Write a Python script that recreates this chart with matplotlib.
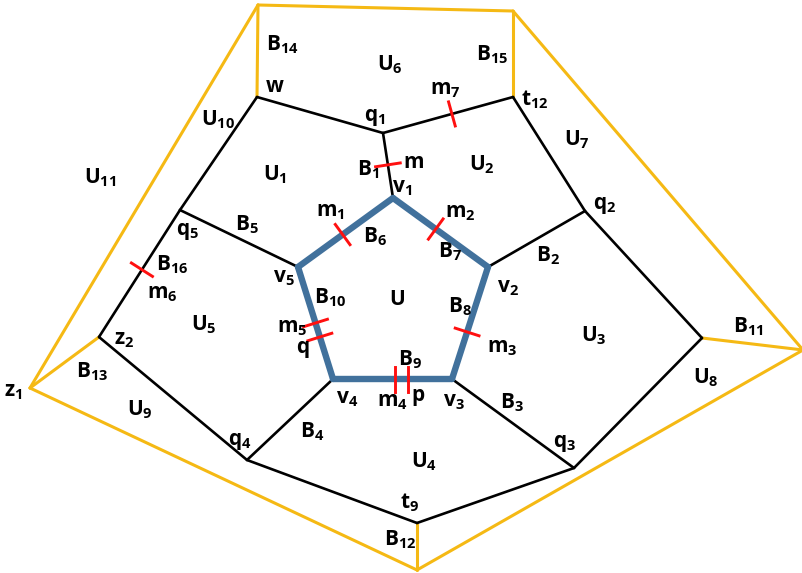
import numpy as np
import matplotlib.pyplot as plt

plt.rcParams['mathtext.fontset'] = 'custom'
plt.rcParams['mathtext.bf'] = 'Open Sans:bold'
plt.rcParams['mathtext.rm'] = 'Open Sans'

# node positions (picture pixels, y down)
nodes = {
    'v1': (393, 198), 'v2': (488, 267), 'v3': (452, 379), 'v4': (333, 379), 'v5': (298, 267),
    'w': (257, 97), 'q1': (383, 133), 't12': (513, 97), 'q2': (585, 211), 'c11': (702, 338),
    'q3': (574, 468), 't9': (417, 523), 'q4': (247, 460), 'z2': (99, 337), 'q5': (180, 210),
    'y14': (258, 5), 'y15': (513, 11), 'yr': (803, 350), 'y12': (417, 570), 'z1': (30, 388),
}

blue_edges = [('v1', 'v2'), ('v2', 'v3'), ('v3', 'v4'), ('v4', 'v5'), ('v5', 'v1')]
black_edges = [('w', 'q1'), ('q1', 't12'), ('t12', 'q2'), ('q2', 'c11'), ('c11', 'q3'),
               ('q3', 't9'), ('t9', 'q4'), ('q4', 'z2'), ('z2', 'q5'), ('q5', 'w'),
               ('q1', 'v1'), ('q2', 'v2'), ('q3', 'v3'), ('q4', 'v4'), ('q5', 'v5')]
yellow_edges = [('y14', 'y15'), ('y14', 'w'), ('y15', 't12'), ('y14', 'z1'), ('y15', 'yr'),
                ('yr', 'y12'), ('z1', 'y12'), ('z1', 'z2'), ('c11', 'yr'), ('t9', 'y12')]

# red marks: edge and position along it
ticks = [('q1', 't12', 0.53), ('q1', 'v1', 0.49), ('v5', 'v1', 0.47), ('v1', 'v2', 0.45),
         ('v2', 'v3', 0.58), ('v4', 'v3', 0.52), ('v4', 'v3', 0.63), ('v5', 'v4', 0.50),
         ('v5', 'v4', 0.625), ('q5', 'z2', 0.47)]

labels = [
    ('B', '14', 282, 45), ('U', '6', 390, 65), ('B', '15', 492, 55), ('w', '', 275, 86),
    ('m', '7', 445, 90), ('t', '12', 535, 100), ('U', '10', 218, 120), ('q', '1', 375, 117),
    ('U', '7', 577, 140), ('U', '11', 100, 178), ('U', '1', 275, 175), ('B', '1', 368, 170),
    ('m', '', 413, 162), ('U', '2', 482, 165), ('v', '1', 402, 188), ('q', '2', 605, 205),
    ('m', '1', 330, 212), ('m', '2', 460, 213), ('q', '5', 188, 232), ('B', '5', 247, 225),
    ('B', '6', 375, 237), ('B', '7', 450, 252), ('B', '2', 548, 256), ('B', '16', 172, 265),
    ('v', '5', 284, 278), ('U', '', 397, 299), ('m', '6', 162, 294), ('B', '10', 330, 298),
    ('B', '8', 460, 307), ('v', '2', 508, 288), ('U', '5', 204, 325), ('m', '5', 292, 328),
    ('m', '3', 502, 348), ('U', '3', 594, 336), ('B', '11', 748, 327), ('z', '2', 124, 340),
    ('q', '', 303, 350), ('B', '9', 410, 360), ('B', '13', 92, 372), ('z', '1', 13, 392),
    ('v', '4', 347, 399), ('m', '4', 392, 402), ('p', '', 418, 398), ('v', '3', 454, 402),
    ('U', '8', 706, 378), ('U', '9', 140, 410), ('B', '4', 312, 432), ('B', '3', 512, 403),
    ('q', '4', 240, 441), ('q', '3', 565, 443), ('U', '4', 424, 462), ('t', '9', 410, 503),
    ('B', '12', 400, 540),
]

fig = plt.figure(figsize=(8.03, 5.73), dpi=100)
ax = fig.add_axes([0, 0, 1, 1])
ax.set_xlim(0, 803)
ax.set_ylim(573, 0)
ax.axis('off')

def draw(edges, color, lw, z):
    for a, b in edges:
        (x1, y1), (x2, y2) = nodes[a], nodes[b]
        ax.plot([x1, x2], [y1, y2], color=color, lw=lw, zorder=z, solid_capstyle='round')

draw(yellow_edges, '#F5B914', 2.2, 1)
draw(black_edges, 'black', 1.9, 2)
draw(blue_edges, '#41719C', 4.6, 3)

for a, b, t in ticks:
    p1, p2 = np.array(nodes[a], float), np.array(nodes[b], float)
    c = p1 + t * (p2 - p1)
    d = (p2 - p1) / np.linalg.norm(p2 - p1)
    n = np.array([-d[1], d[0]]) * 12.5
    ax.plot([c[0] - n[0], c[0] + n[0]], [c[1] - n[1], c[1] + n[1]], color='#FF1010', lw=2.1, zorder=4)

for base, sub, x, y in labels:
    s = r'$\mathbf{%s}_{\mathbf{%s}}$' % (base, sub) if sub else r'$\mathbf{%s}$' % base
    ax.text(x, y, s, fontsize=15, ha='center', va='center', zorder=5)

fig.savefig('out.png', dpi=100)
